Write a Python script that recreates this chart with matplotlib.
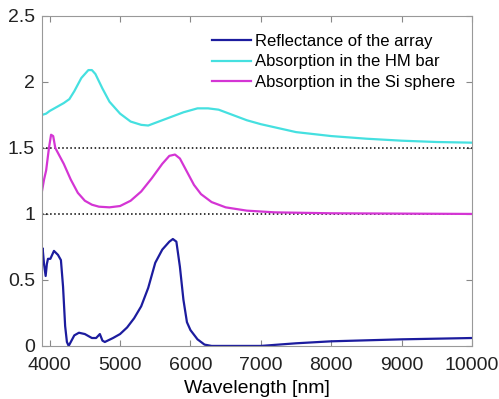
import matplotlib
matplotlib.use("Agg")
import matplotlib.pyplot as plt

plt.rcParams['font.family'] = ['Liberation Sans', 'DejaVu Sans']

# reflectance of the array
wl_refl = [3890, 3900, 3920, 3943, 3960, 3976, 4010, 4061, 4118, 4160, 4190, 4220,
           4245, 4270, 4300, 4350, 4416, 4500, 4600, 4660, 4713, 4750, 4784, 4900,
           5000, 5100, 5200, 5300, 5400, 5500, 5600, 5700, 5750, 5800, 5850, 5900,
           5950, 6000, 6100, 6200, 6300, 7000, 7500, 8000, 9000, 10000]
refl = [0.72, 0.74, 0.62, 0.53, 0.62, 0.66, 0.66, 0.72, 0.69, 0.65, 0.45, 0.15,
        0.03, 0.0, 0.03, 0.08, 0.10, 0.09, 0.06, 0.06, 0.09, 0.04, 0.03, 0.06,
        0.09, 0.14, 0.21, 0.30, 0.44, 0.63, 0.73, 0.79, 0.81, 0.79, 0.60, 0.35,
        0.18, 0.12, 0.05, 0.01, 0.0, 0.0, 0.02, 0.035, 0.05, 0.06]

# absorption in the HM bar
wl_hm = [3890, 3950, 4000, 4100, 4200, 4280, 4350, 4450, 4550, 4600, 4650, 4750,
         4850, 5000, 5150, 5300, 5400, 5500, 5700, 5900, 6100, 6250, 6400, 6600,
         6800, 7000, 7500, 8000, 8500, 9000, 9500, 10000]
abs_hm = [1.75, 1.76, 1.78, 1.81, 1.84, 1.87, 1.93, 2.03, 2.09, 2.09, 2.06, 1.95,
          1.85, 1.76, 1.70, 1.675, 1.67, 1.69, 1.73, 1.77, 1.80, 1.80, 1.79, 1.75,
          1.71, 1.68, 1.62, 1.59, 1.57, 1.555, 1.545, 1.54]

# absorption in the Si sphere
wl_si = [3890, 3920, 3950, 3990, 4020, 4050, 4080, 4120, 4200, 4300, 4400, 4500,
         4600, 4700, 4850, 5000, 5150, 5300, 5450, 5600, 5700, 5780, 5850, 5950,
         6050, 6150, 6300, 6500, 6800, 7200, 8000, 10000]
abs_si = [1.17, 1.26, 1.33, 1.50, 1.60, 1.59, 1.50, 1.46, 1.38, 1.26, 1.16, 1.10,
          1.07, 1.055, 1.05, 1.06, 1.10, 1.17, 1.27, 1.38, 1.44, 1.45, 1.42, 1.32,
          1.22, 1.15, 1.09, 1.05, 1.025, 1.012, 1.005, 1.0]

fig = plt.figure(figsize=(4.99, 3.99), dpi=100)
ax = fig.add_axes([0.084, 0.133, 0.862, 0.827])

ax.axhline(1.0, color='k', ls=':', lw=1.1)
ax.axhline(1.5, color='k', ls=':', lw=1.1)
ax.plot(wl_refl, refl, color='#1c1c9e', lw=1.6, label='Reflectance of the array')
ax.plot(wl_hm, abs_hm, color='#45e0e0', lw=1.6, label='Absorption in the HM bar')
ax.plot(wl_si, abs_si, color='#d435d4', lw=1.6, label='Absorption in the Si sphere')

ax.set_xlim(3890, 10000)
ax.set_ylim(0, 2.5)
ax.set_xticks(range(4000, 10001, 1000))
ax.set_yticks([0, 0.5, 1, 1.5, 2, 2.5])
ax.set_yticklabels(['0', '0.5', '1', '1.5', '2', '2.5'])
ax.tick_params(direction='in', top=True, right=True, labelsize=14,
               color='#888888', length=4, colors='#222222')
ax.tick_params(axis='x', pad=8)
ax.tick_params(axis='y', pad=5)
for s in ax.spines.values():
    s.set_color('#999999')
ax.set_xlabel('Wavelength [nm]', fontsize=14, labelpad=4)

ax.legend(loc='upper left', bbox_to_anchor=(0.395, 0.945), frameon=False,
          fontsize=12, handlelength=2.35, handletextpad=0.25,
          labelspacing=0.32, borderaxespad=0, borderpad=0)

fig.savefig('out.png', dpi=100)
